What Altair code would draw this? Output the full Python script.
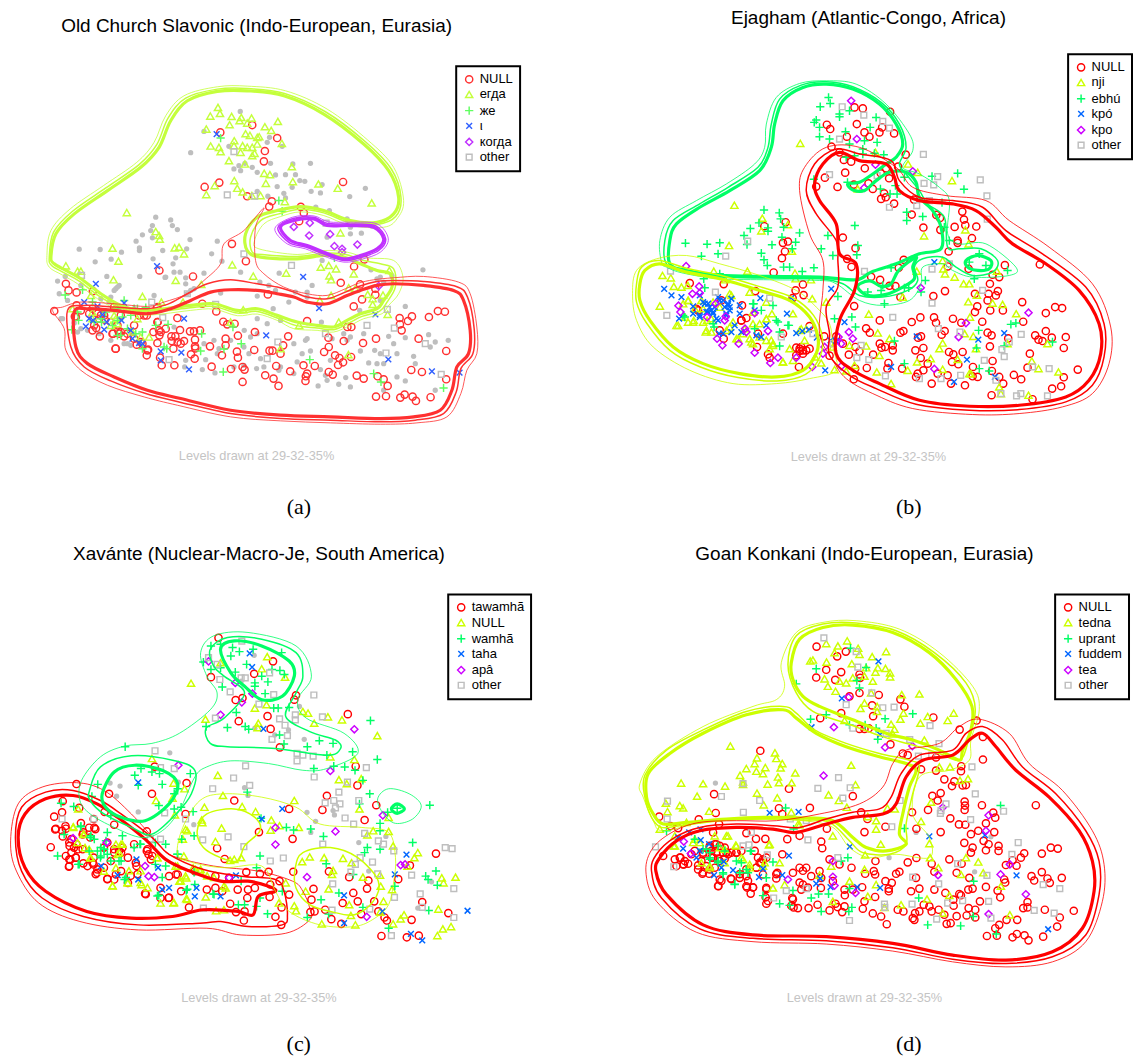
import altair as alt
import pandas as pd

alt.data_transformers.disable_max_rows()

SERIF = "Liberation Serif"
SANS = "Liberation Sans"
SHAPES = ["circle", "triangle-up", "M-1.15,0H1.15M0,-1.15V1.15",
          "M-.8,-.8L.8,.8M-.8,.8L.8,-.8", "diamond", "M-.8,-.8H.8V.8H-.8Z"]
PAL_A = ["#FF3030", "#C4FF3C", "#60FF60", "#3060FF", "#C030FF", "#BEBEBE"]
PAL = ["#FF0000", "#CCFF00", "#00FF66", "#0066FF", "#CC00FF", "#BEBEBE"]

# ---------- Panel (a) ----------
A_CATS = ["NULL", "егда", "же", "ι", "когда", "other"]
A_NULL = [(70,932),(105,850),(113,870),(137,876),(186,872),(137,915),(132,948),(150,930),(378,923),(440,953),(515,910),(557,933),(712,882),(487,828),(386,810),(604,730),(646,782),(703,451),(700,482),(740,412),(665,373),(569,395),(566,546),(522,559),(650,587),(724,602),(716,618),(811,619),(820,637),(806,662),(938,544),(1002,777),(971,798),(931,847),(989,852),(1035,865),(1035,883),(995,897),(970,918),(830,962),(951,980),(963,980),(1108,953),(1145,948),(1133,962),(1109,972),(1114,990),(1196,950),(1223,932),(1244,934),(1165,1015),(1248,1052),(1037,1015),(998,1028),(940,1022),(894,1012),(895,1040),(881,1055),(914,1065),(927,1073),(938,1086),(923,1094),(962,1070),(853,1097),(819,1095),(830,1120),(826,1128),(825,1142),(895,1115),(907,1123),(979,1126),(1000,1135),(1042,1128),(1060,1137),(1072,1157),(1037,1189),(1067,1188),(1110,1192),(1123,1183),(1147,1189),(1157,1202),(1201,1191),(1248,1137),(1143,1109),(1175,1115),(779,1113),(744,1157),(729,1135),(704,1125),(737,1097),(636,1145),(642,1108),(636,1100),(601,1106),(543,1099),(622,1072),(619,1054),(671,1049),(717,1051),(726,1051),(750,1060),(758,1035),(773,1008),(673,995),(622,1006),(585,1015),(585,1035),(574,1065),(538,1038),(578,964),(590,972),(612,970),(493,1018),(493,1038),(508,990),(490,993),(478,993),(448,989),(422,1008),(434,1008),(423,1022),(441,1025),(460,1022),(450,1030),(428,1045),(405,985),(386,1005),(380,1028),(381,965),(385,990),(368,995),(348,1065),(352,1048),(388,1072),(393,1095),(431,1095),(481,1062),(494,1044),(492,1075),(254,1045),(207,1008),(196,983),(250,920),(247,1000),(262,990),(280,1008),(318,1033),(330,1025),(348,945),(325,945),(270,945),(220,945),(200,940),(185,925),(240,965),(260,975),(222,958),(205,955),(265,1000),(290,1000),
 (135,950),(175,940),(210,945),(185,990),(245,1000),(270,995),(310,975),(340,945),(380,920),(380,965),(390,995),(310,1015),(350,1050),(335,1030),(255,1045),(190,975)]
A_LIME = [(562,320),(568,338),(539,346),(603,347),(627,360),(632,350),(663,352),(650,367),(742,362),(527,385),(597,372),(703,378),(722,389),(645,399),(658,404),(686,408),(680,410),(611,420),(754,428),(540,436),(565,440),(570,453),(610,435),(636,435),(630,455),(650,440),(665,440),(680,430),(665,465),(672,458),(595,480),(643,490),(784,498),(701,518),(718,522),(611,540),(706,548),(787,543),(864,550),(922,563),(552,555),(620,563),(636,574),(527,582),(664,585),(690,585),(763,603),(1024,607),(288,636),(375,693),(387,716),(385,705),(245,743),(263,782),(432,742),(445,740),(460,760),(105,796),(140,812),(150,812),(605,793),(248,838),(435,840),(512,852),(668,827),(767,818),(871,800),(895,795),(917,805),(897,826),(902,838),(930,697),(970,820),(955,862),(975,865),(902,885),(868,900),(335,888),(392,905),(457,905),(638,928),(1012,882),(1058,884),(1027,895),(1027,912),(1072,942),(1077,810),(925,965),(806,975),(600,965),(750,1045),(954,1063),(125,925),(185,935),(250,945),(260,970),(240,975),(320,955),(330,1010),
 (180,885),(185,955),(255,955),(355,1010),(305,995),(250,925)]
A_GREEN = [(103,884),(155,868),(140,935),(143,960),(123,988),(280,900),(260,925),(300,945),(345,922),(310,925),(212,965),(260,1005),(290,985),(375,975),(412,972),(408,1045),(335,1045),(513,1000),(510,1052),(607,980),(632,1030),(580,1046),(578,1115),(838,1078),(1030,1120),(1052,1145),(1240,1163),(570,412),(745,600),(755,632),(912,772),(260,960),(185,905),
 (210,955),(225,935),(275,950),(190,965),(245,975),(270,1005),(320,925),(315,1000),(335,995),(400,1040)]
A_BLUE = [(558,400),(195,850),(160,905),(200,918),(280,908),(175,955),(187,960),(215,943),(165,978),(220,988),(228,965),(272,960),(300,990),(305,1015),(325,1028),(335,1030),(390,1053),(390,1080),(452,1057),(460,955),(475,1107),(707,1005),(1074,1077),(1205,1113),(1288,1117),(1035,942),(866,923),(818,829),(379,797)]
A_PURPLE = [(790,679),(838,667),(899,701),(836,705),(912,737),(935,745),(935,755),(981,732),(1045,857)]
A_OTHER = [(152,825),(363,905),(396,952),(470,880),(555,912),(610,453),(590,583),(672,587),(640,760),(783,795),(887,668),(1071,927),(1010,975),(1092,983),(742,1025),(710,1075),(415,1078),(1067,1058),(1185,1030),(1233,1122),(885,1000)]
A_DOTS = [(629,332),(480,456),(625,495),(610,505),(630,510),(643,488),(665,500),(680,515),(720,488),(840,488),(787,490),(765,522),(795,522),(735,523),(808,540),(823,542),(740,558),(785,560),(875,552),(842,572),(870,577),(1005,563),(958,588),(680,572),(760,578),(712,587),(765,592),(717,410),(710,425),(755,437),(520,392),(595,437),(856,620),(897,630),(950,655),(960,680),(960,700),(1025,677),(993,698),(890,710),(375,650),(420,658),(365,675),(360,690),(425,675),(440,687),(335,703),(365,712),(478,717),(316,722),(326,742),(326,750),(396,750),(145,746),(208,747),(272,755),(193,784),(241,776),(367,775),(435,772),(468,745),(427,790),(448,815),(430,815),(403,831),(327,828),(228,828),(265,855),(255,865),(465,832),(465,850),(520,818),(490,865),(560,722),(543,760),(574,782),(630,815),(688,845),(715,855),(735,870),(775,905),(795,875),(830,875),(830,890),(845,855),(746,818),(875,780),(1178,808),(1022,808),(1085,827),(1040,835),(1050,830),(1060,845),(1125,918),(988,930),(1050,900),(728,925),(680,887),(570,878),(680,955),(710,970),(750,960),(873,965),(830,1015),(815,1060),(840,1052),(1000,1000),(960,1010),(1075,1008),(1090,1030),(1125,1012),(1195,1003),(1215,1025),(1254,1020),(1200,1040),(1150,1068),(1155,1090),(1033,1050),(990,1052),(1060,1090),(1015,1088),(1040,1090),(1125,1142),(1100,1130),(1060,1170),(1215,1170),(960,1160),(925,1152),(863,1157),(946,1132),(885,1125),(870,1108),(890,1140),(790,1120),(745,1110),(690,1075),(678,1105),(640,1040),(655,1060),(641,990),(550,1020),(520,1030),(525,1078),(515,1108),(553,1118),(465,1080),(462,1100),(80,842),(85,880),(103,828),(95,955),(130,968),(150,985),(240,890),(235,905),(210,895),(300,1035),(280,1030),(565,1045),(560,1060),(600,1020),(610,1100),(750,1100),(660,1010),(790,1030),(825,1020),(905,1015),(950,1020),(900,1080),(800,1085),(640,1095),(940,1000),(1050,1060),(1100,1060),(700,1100),(680,1000),
 (90,955),(110,900),(260,860),(250,870),(170,990),(240,1020),(290,1030),(310,925),(205,1000),(140,995),(370,885),(430,980),(470,880),(480,870),(405,830),(150,855)]
A_CONTOURS = [
 (1, 3.2, [(60,770),(75,700),(130,640),(230,570),(330,500),(385,440),(420,360),(470,300),(560,272),(650,270),(760,285),(880,340),(1000,430),(1075,510),(1105,590),(1090,640),(1040,665),(960,660),(880,630),(810,618),(740,630),(680,650),(645,700),(650,750),(690,770),(800,775),(880,765),(940,770),(990,790),(1040,810),(1080,820),(1085,860),(1060,900),(1040,925),(990,940),(950,960),(910,980),(860,975),(800,965),(740,945),(680,925),(620,930),(550,910),(480,915),(400,925),(330,930),(270,915),(210,880),(150,835),(105,810),(70,790)]),
 (1, 1.5, [(55,770),(68,695),(125,632),(225,562),(325,492),(378,432),(412,352),(465,292),(560,265),(650,263),(762,278),(885,333),(1006,424),(1083,505),(1112,590),(1096,648),(1040,672),(960,667),(880,637),(810,626),(745,640),(690,660),(660,710),(665,755),(695,762),(800,768),(880,758),(945,762),(1000,780),(1050,790),(1090,805),(1095,860),(1070,905),(1048,932),(995,948),(955,968),(910,988),(860,983),(795,975),(740,953),(680,933),(620,938),(550,918),(480,922),(400,932),(330,937),(268,922),(205,887),(145,842),(100,817),(62,795)]),
 (1, 0.8, [(48,765),(60,690),(118,625),(218,555),(318,485),(370,425),(405,345),(460,285),(560,258),(650,256),(765,270),(890,325),(1012,418),(1090,500),(1120,600),(1100,655),(1060,680),(960,675),(880,645),(810,634),(750,648),(700,670),(672,720),(685,745),(800,762),(880,750),(950,755),(1010,772),(1090,780),(1118,830),(1105,880),(1075,915),(1055,940),(1000,955),(960,975),(910,995),(860,990),(790,985),(740,960),(680,941),(620,946),(550,926),(480,930),(400,940),(330,944),(265,930),(200,895),(140,850),(95,824),(55,800)]),
 (0, 3.2, [(130,935),(135,1040),(170,1090),(250,1130),(350,1170),(450,1195),(600,1230),(750,1245),(900,1250),(1050,1255),(1150,1250),(1230,1230),(1265,1170),(1280,1100),(1315,1060),(1320,990),(1300,900),(1270,870),(1180,855),(1090,850),(1040,855),(990,870),(950,885),(890,910),(830,905),(790,890),(740,880),(680,870),(600,868),(540,875),(480,900),(420,925),(350,940),(250,930),(170,925)]),
 (0, 1.5, [(110,930),(120,1040),(160,1100),(240,1142),(345,1180),(445,1205),(600,1240),(750,1255),(900,1260),(1050,1265),(1155,1260),(1240,1240),(1278,1175),(1292,1105),(1328,1060),(1332,985),(1312,890),(1278,858),(1180,843),(1090,840),(1040,843),(985,858),(945,875),(890,895),(830,890),(790,875),(740,860),(680,850),(600,838),(530,850),(470,880),(410,912),(350,925),(250,920),(160,915)]),
 (0, 0.8, [(65,930),(100,985),(105,1050),(150,1110),(230,1155),(340,1190),(440,1215),(600,1250),(750,1262),(900,1268),(1050,1272),(1160,1268),(1250,1250),(1292,1180),(1310,1110),(1340,1060),(1340,980),(1320,880),(1285,845),(1180,828),(1090,832),(1030,838),(985,848),(945,865),(890,885),(830,880),(760,860),(700,820),(675,780),(675,680),(700,622),(640,690),(580,730),(570,790),(520,840),(470,880),(400,905),(350,918),(250,910),(150,905),(95,920)]),
 (4, 3.2, [(750,680),(790,660),(850,655),(890,675),(960,675),(1030,680),(1060,715),(1040,745),(990,765),(940,775),(880,755),(830,735),(780,720)]),
 (4, 1.5, [(742,682),(788,654),(850,650),(892,669),(960,670),(1034,675),(1066,715),(1045,750),(992,771),(940,780),(878,760),(828,740),(776,726)]),
 (4, 0.8, [(733,684),(786,650),(850,646),(894,664),(960,665),(1040,670),(1074,715),(1050,755),(995,776),(940,785),(875,765),(825,745),(770,730)]),
]

# ---------- Panel (b) ----------
B_CATS = ["NULL", "nji", "ebhú", "kpó", "kpo", "other"]
B_NULL = [(705,320),(730,323),(812,333),(622,372),(632,385),(712,370),(788,380),(780,395),(735,395),(824,398),(682,408),(750,408),(636,438),(660,455),(673,478),(695,483),(859,462),(836,498),(800,503),(736,503),(784,518),(677,516),(616,531),(809,533),(703,552),(747,548),(654,559),(590,558),(760,565),(794,578),(785,595),(799,590),(824,609),(884,597),(877,642),(951,643),(962,652),(1029,633),(1034,657),(1038,674),(1071,678),(1006,679),(963,688),(912,681),(498,665),(434,677),(505,723),(490,727),(496,753),(487,773),(462,816),(670,711),(708,743),(683,775),(696,799),(755,829),(782,838),(853,778),(838,802),(810,856),(828,857),(988,753),(1015,720),(1015,727),(1058,713),(985,798),(1048,805),(1157,794),(1262,792),(1120,823),(1140,830),(1112,850),(1067,880),(1108,880),(1130,885),(1136,872),(1105,900),(942,887),(977,872),(843,890),(704,917),(312,851),(407,872),(210,848),(550,852),(528,870),(552,884),(519,893),(1209,905),(1113,930),(1151,930),(1074,918),(1067,935),(1308,920),(1329,923),(1280,938),(1089,964),(1001,955),(1026,967),(944,951),(950,967),(903,951),(877,965),(781,960),(740,984),(751,997),(852,992),(843,997),(976,992),(967,1003),(905,1008),(896,1012),(1105,997),(1117,1005),(1212,964),(1167,1014),(1248,1005),(1258,1018),(1270,1022),(1280,992),(1298,1012),(1340,1010),(1334,1043),(1232,1060),(1225,1102),(1120,1082),(1112,1038),(1061,1100),(1030,1055),(1002,1062),(989,1055),(998,1085),(1017,1092),(904,1073),(888,1050),(912,1043),(820,1035),(820,1050),(797,1040),(786,1042),(781,1030),(761,1063),(708,1040),(720,1053),(807,1088),(804,1105),(848,1105),(742,1103),(707,1105),(703,1137),(688,1063),(650,1008),(670,1030),(614,1008),(570,977),(540,1052),(550,1050),(445,1062),(450,1072),(412,1040),(415,1000),(490,1000),(530,1042),(538,1100),(630,1066),(925,1090),(912,1110),(895,1120),(890,1130),(937,1150),(995,1150),(985,1125),(1037,1155),(1060,1128),(1075,1130),(1117,1185),(1140,1130),(1152,1150),(1184,1124),(1206,1137),(1240,1197),(1299,1165),(1326,1158),(1334,1131),(1376,1108),(1118,1112),(955,1120),(300,990),(312,1015),(365,960),(235,930),(305,900),
 (540,1045),(550,1060),(560,1050),(530,1065),(545,1040),(570,1045),(367,915),(380,953),(230,925),(365,960)]
B_LIME = [(542,428),(344,614),(428,653),(425,691),(505,672),(328,735),(517,752),(282,812),(383,812),(316,838),(128,825),(153,832),(162,858),(185,860),(204,855),(120,917),(175,975),(205,965),(222,960),(258,995),(275,995),(205,900),(225,925),(250,925),(262,960),(320,990),(350,1015),(395,1025),(370,1000),(400,970),(390,875),(440,905),(457,940),(440,955),(420,970),(520,940),(578,895),(526,818),(528,835),(574,838),(450,1045),(460,1030),(510,1045),(490,1085),(440,1020),(545,985),(555,1020),(587,1070),(605,1088),(645,1108),(680,1112),(705,1095),(690,1035),(740,1037),(780,1065),(772,1115),(815,1150),(865,1110),(893,1085),(934,1075),(970,1107),(960,1045),(970,1028),(1036,1000),(1015,1077),(1050,1120),(1140,1160),(1145,1180),(1228,1185),(1238,1082),(1258,1105),(1318,1115),(1285,1030),(1191,940),(1150,912),(1120,908),(1052,950),(1047,904),(1073,884),(1006,830),(977,820),(972,805),(1033,850),(1050,850),(1133,812),(892,812),(914,706),(1038,688),(1048,730),(850,890),(748,941),(775,998),(810,1015),(970,780),(998,540),(866,490),(895,515),(715,565),(768,455),(1062,1008),(1165,1030),(1055,1120),(1070,1045),(620,905),(640,1040),
 (190,910),(205,900),(195,950),(220,965),(250,965),(260,990),(275,955),(330,980),(340,965),(375,985),(390,1015),(400,1030),(420,1010),(440,955),(455,1020),(460,1035),(490,1085),(520,1080),(540,990),(560,985),(335,885),(245,900),(170,975),(355,1015),(300,920),(280,905),(330,880),(400,935)]
B_GREEN = [(627,290),(632,308),(602,318),(690,330),(660,340),(660,348),(590,358),(584,365),(600,380),(600,408),(630,415),(678,393),(752,380),(770,350),(735,420),(773,425),(690,430),(730,445),(765,458),(793,462),(680,470),(705,465),(730,460),(938,527),(1015,518),(1034,566),(855,530),(684,545),(583,536),(783,565),(828,555),(812,580),(833,580),(968,606),(862,635),(862,660),(910,648),(706,675),(625,705),(605,745),(640,765),(715,735),(712,763),(433,628),(479,637),(418,667),(483,655),(392,684),(445,682),(445,692),(492,680),(540,697),(373,705),(382,732),(487,710),(197,728),(262,731),(300,727),(245,767),(295,760),(425,758),(457,733),(528,725),(518,745),(433,778),(443,795),(492,800),(510,800),(548,813),(583,802),(815,802),(975,680),(990,720),(1080,760),(1050,785),(1100,795),(1065,835),(1165,810),(918,840),(905,875),(855,862),(868,862),(790,855),(745,875),(785,870),(795,910),(655,888),(697,950),(645,955),(708,980),(825,1022),(855,1090),(1078,990),(1072,1043),(1155,1037),(1175,972),(1190,968),(1300,1025),(1080,1105),(1110,1112),(400,910),(460,915),(505,975),(475,965),(480,1037),(300,820),(252,835),(255,862),(280,970),(190,945),
 (195,950),(283,980),(405,985),(470,960),(508,975),(480,995),(402,910),(425,930)]
B_BLUE = [(133,865),(155,885),(185,890),(178,955),(220,918),(240,885),(265,910),(285,920),(310,900),(335,895),(325,915),(300,900),(275,930),(260,935),(240,945),(280,940),(295,960),(320,940),(345,975),(360,915),(360,940),(422,893),(405,930),(440,975),(410,1005),(425,1010),(335,995),(298,1000),(502,940),(515,893),(530,998),(548,992),(568,988),(592,1012),(633,1020),(650,1022),(635,865),(675,965),(617,1110),(815,1100),(892,1008),(1077,1018),(1155,998),(1043,1078),(1127,1130),(1004,1145),(945,785),(330,920),(250,905),
 (255,910),(295,890),(315,920),(280,935),(265,935),(290,955),(320,945),(240,950),(220,940),(310,1000),(365,995),(325,910),(270,920),(330,930)]
B_PURPLE = [(199,797),(238,858),(240,878),(218,880),(176,916),(182,935),(288,910),(262,950),(318,948),(315,960),(292,1015),(308,1035),(357,1030),(405,938),(376,985),(380,995),(445,992),(405,1057),(475,1072),(452,1088),(530,1072),(578,1100),(615,1040),(610,1060),(657,1010),(688,995),(700,1015),(665,1098),(665,1030),(768,492),(712,415),(695,300),(734,562),(880,512),(904,862),(1228,937),(1040,968),(1018,1010),(945,1106)]
B_OTHER = [(668,318),(733,343),(790,362),(810,382),(660,415),(630,522),(773,525),(912,461),(955,528),(914,548),(943,553),(1083,538),(1103,586),(1104,656),(930,600),(892,615),(810,620),(384,722),(318,767),(735,813),(938,806),(990,790),(1090,870),(938,908),(820,951),(957,985),(1022,995),(1170,1025),(1206,1002),(1148,1048),(1155,1069),(1095,1080),(1240,1100),(1290,1105),(1024,1125),(965,1135),(798,1127),(748,1078),(712,1072),(1205,1180),(1192,1187),(1285,1187),(1145,1180),(1130,1140),(152,812),(141,945),(450,893),(485,1010),(580,1000),(640,1030),(725,1035),(900,1135),(287,875)]
B_DOTS = []
B_CONTOURS = [
 (2, 3.2, [(150,790),(150,720),(170,670),(240,620),(330,570),(420,510),(455,440),(465,370),(490,300),(550,260),(620,250),(700,265),(780,310),(830,370),(850,430),(830,470),(800,490),(760,520),(720,545),(685,550),(700,568),(735,570),(770,540),(810,515),(860,515),(890,545),(900,590),(940,630),(965,680),(965,745),(900,760),(830,790),(755,815),(710,838),(600,830),(450,828),(300,825),(200,810)]),
 (2, 3.2, [(1040,780),(1075,765),(1115,780),(1110,805),(1075,810),(1045,800)]),
 (2, 3.2, [(715,862),(725,848),(755,842),(785,858),(815,850),(838,810),(890,770),(880,800),(885,835),(850,860),(800,882),(745,885)]),
 (2, 1.5, [(140,790),(135,720),(160,660),(240,610),(325,560),(415,500),(445,440),(455,370),(480,295),(545,253),(620,243),(700,258),(785,305),(840,370),(860,440),(840,490),(860,520),(900,570),(925,610),(975,650),(985,740),(1020,745),(1085,745),(1135,780),(1120,815),(1060,825),(1010,800),(970,770),(910,775),(885,800),(895,840),(865,870),(790,890),(720,885),(670,850),(600,835),(450,833),(300,830),(200,815)]),
 (2, 0.8, [(125,785),(120,720),(150,650),(230,600),(320,550),(405,490),(435,440),(440,370),(470,290),(540,248),(620,240),(710,250),(800,310),(870,400),(880,450),(850,500),(900,520),(960,560),(990,600),(985,700),(1020,730),(1100,730),(1190,800),(1170,825),(1060,830),(1000,810),(970,790),(910,800),(905,850),(870,900),(790,915),(720,900),(650,850),(600,840),(450,838),(300,835),(190,818),(140,800)]),
 (1, 3.2, [(60,850),(75,810),(120,790),(200,815),(300,835),(420,870),(510,900),(570,950),(595,1010),(590,1060),(550,1110),(470,1130),(360,1120),(250,1090),(160,1040),(90,960),(60,900)]),
 (1, 1.5, [(50,850),(65,800),(118,780),(205,805),(305,825),(425,860),(520,892),(582,945),(608,1010),(602,1068),(558,1122),(472,1142),(355,1132),(242,1100),(150,1050),(80,968),(50,905)]),
 (1, 0.8, [(38,880),(50,810),(110,775),(200,765),(300,790),(420,825),(530,870),(590,920),(630,970),(640,1040),(650,1110),(570,1135),(470,1150),(340,1150),(210,1110),(100,1040),(50,960)]),
 (0, 3.2, [(585,550),(610,490),(660,455),(720,480),(800,490),(825,530),(840,570),(900,600),(1000,610),(1070,630),(1130,680),(1180,730),(1280,790),(1380,870),(1440,970),(1445,1060),(1410,1140),(1340,1190),(1200,1215),(1050,1218),(900,1200),(780,1150),(700,1110),(650,1060),(660,960),(705,870),(710,790),(660,760),(650,670),(600,600)]),
 (0, 1.5, [(560,570),(585,490),(650,445),(720,460),(815,480),(840,540),(900,590),(1000,600),(1090,620),(1160,690),(1270,760),(1400,860),(1455,970),(1455,1070),(1420,1155),(1340,1205),(1200,1228),(1050,1230),(890,1212),(770,1165),(690,1125),(630,1065),(630,1000),(620,920),(655,860),(655,780),(650,720),(590,640)]),
 (0, 0.8, [(540,570),(555,500),(620,440),(720,440),(830,500),(880,560),(980,585),(1100,600),(1170,660),(1290,740),(1420,850),(1475,980),(1470,1090),(1420,1180),(1330,1220),(1200,1240),(1060,1243),(880,1225),(760,1180),(680,1135),(640,1080),(600,1000),(610,870),(610,780),(570,700)]),
]

# ---------- Panel (c) ----------
C_CATS = ["tawamhã", "NULL", "wamhã", "taha", "apâ", "other"]
C_NULL = [(634,306),(793,376),(612,423),(738,413),(684,491),(704,485),(860,477),(855,490),(1011,533),(693,554),(777,539),(786,577),(813,632),(1034,688),(448,689),(541,738),(1039,745),(950,776),(1094,804),(937,818),(840,815),(680,790),(440,770),(315,770),(220,741),(180,792),(228,812),(178,825),(155,838),(302,824),(538,830),(330,862),(188,866),(158,876),(178,880),(233,857),(270,845),(275,875),(425,882),(1060,848),(752,884),(850,904),(630,932),(180,897),(145,929),(205,905),(200,925),(205,945),(225,935),(218,960),(202,966),(198,987),(240,977),(270,980),(280,1005),(310,1023),(330,1025),(300,990),(320,970),(350,945),(330,935),(370,1035),(420,1067),(465,1050),(465,1080),(488,1080),(525,1060),(548,1108),(600,1055),(625,1050),(645,1060),(668,1097),(685,1122),(718,1080),(708,1147),(710,1120),(783,1077),(818,1108),(800,1136),(817,1160),(840,1070),(652,964),(715,1003),(755,1008),(780,1002),(852,1002),(812,1030),(785,1040),(690,1055),(720,1055),(740,1050),(905,1085),(911,1053),(902,1122),(914,1120),(945,1115),(963,1143),(992,1157),(1050,1128),(996,1095),(1027,1065),(1040,1090),(1067,1052),(1071,1028),(1015,1018),(956,1001),(1088,1090),(1100,1120),(1118,1138),(1125,1147),(1158,1024),(1192,983),(1268,948),(1228,1092),(1197,1145),(1109,1193),(1183,1197),(1218,1192),(1304,1125),(425,940),(430,950),(240,885),(260,900),(300,930),(370,960),(395,985),(510,1010),(490,1015),(565,1000),(625,1015),(665,1020),(515,1010),(350,1000),(270,960),(220,920),(335,1010),
 (160,874),(189,874),(199,915),(238,891),(257,871),(272,871),(213,930),(238,935),(199,965),(218,960),(199,985),(189,955),(267,975),(281,995),(252,985),(310,1024),(276,1009),(344,940),(354,930),(388,920),(427,935),(441,955),(437,965),(378,1014),(398,1009),(393,975),(422,1069),(490,1079),(310,915),(330,945)]
C_LIME = [(554,441),(640,380),(776,362),(760,398),(828,423),(740,515),(774,505),(880,525),(895,530),(953,541),(994,550),(913,560),(596,548),(748,573),(750,560),(1097,597),(1030,668),(960,660),(440,665),(632,715),(985,728),(1008,740),(1050,725),(647,775),(855,790),(703,808),(593,810),(503,738),(535,755),(452,790),(500,783),(507,833),(225,815),(585,848),(742,823),(788,848),(786,878),(868,870),(812,865),(1045,815),(1130,840),(1130,882),(1085,880),(1068,892),(643,872),(625,912),(543,880),(530,905),(210,870),(240,890),(1143,925),(1215,945),(1205,960),(1185,985),(900,958),(878,972),(942,960),(997,962),(1022,975),(968,998),(1055,1018),(1105,1012),(1107,1045),(1140,1055),(1285,1020),(1325,1018),(1290,1035),(1275,1113),(1312,1165),(1288,1172),(1272,1192),(1175,1130),(1165,1142),(1143,1157),(1115,1090),(1033,1160),(1020,1132),(935,1157),(860,1118),(855,1103),(888,1060),(955,1053),(1015,1100),(965,1010),(700,960),(680,965),(668,968),(325,1043),(465,1095),(503,1095),(597,1077),(540,1082),(627,1118),(650,1115),(830,1035),(580,1000),(520,1030),(540,1020),(560,990),(515,985),(455,960),(410,1040),(370,1035),(335,990),(340,950),(350,920),(245,930),(260,960),(300,1000),(650,1045),(655,1050),(810,1095),(1105,1122),
 (211,868),(242,891),(223,915),(257,935),(262,960),(335,920),(354,920),(344,945),(325,1044),(369,1034),(373,999),(407,999),(427,1049),(407,1034),(456,960),(509,985),(533,955),(538,1014),(524,1029),(567,995),(582,995),(601,1014),(621,1019),(504,1093),(543,1084),(587,856),(538,876)]
C_GREEN = [(612,330),(675,335),(640,325),(670,360),(695,347),(818,350),(735,340),(590,378),(640,395),(612,400),(683,408),(716,385),(790,400),(813,403),(826,415),(760,420),(778,437),(740,440),(740,450),(645,452),(770,472),(795,515),(808,515),(840,513),(686,528),(598,570),(660,573),(712,570),(722,578),(812,595),(825,622),(893,630),(928,612),(968,620),(950,655),(912,695),(970,688),(1002,690),(1032,700),(1055,730),(1025,645),(1077,552),(1097,668),(1075,770),(1045,800),(1250,804),(1155,813),(1105,858),(1105,880),(1127,825),(362,630),(408,695),(390,715),(440,705),(462,710),(470,742),(552,710),(282,742),(400,745),(265,778),(515,755),(505,770),(175,798),(212,808),(460,805),(505,815),(525,810),(560,823),(320,835),(232,868),(718,765),(758,843),(903,875),(832,870),(853,878),(940,897),(527,905),(563,895),(1105,935),(1068,930),(1060,945),(1200,915),(755,955),(948,978),(165,955),(225,980),(310,885),(405,920),(450,915),(515,950),(260,900),(300,935),(290,960),(350,970),(450,980),(1027,1010),(985,1065),(1148,1045),(1238,1015),(1245,1025),(1268,1000),(1272,1042),(1247,1117),(1130,1170),(1055,1108),(955,1128),(933,1085),(893,1138),(777,1127),(820,1060),(755,1080),(745,1105),(710,1100),(692,1100),(618,1068),(460,1072),(565,1040),(700,1030),(745,990),(540,1057),(360,1025),
 (262,895),(272,905),(291,930),(281,940),(301,935),(291,955),(310,950),(320,970),(344,970),(306,910),(257,940),(228,980),(233,866),(184,891),(354,895),(407,920),(388,930),(480,920),(480,985),(514,950),(470,1019),(456,1074),(543,1054),(621,1069),(563,1004),(364,1019)]
C_BLUE = [(725,352),(732,393),(400,736),(820,815),(760,845),(765,577),(1182,951),(1148,1010),(1360,1118),(1112,1120),(1000,1072),(1000,1155),(1195,1187),(1228,1206),(640,1075),(565,1075),(570,1050),(490,1050),(470,1055),(400,1025),(458,990),(395,965),(340,1012),(292,985),(685,1013)]
C_PURPLE = [(605,376),(683,440),(733,472),(702,498),(640,535),(517,685),(1030,578),(960,702),(1113,834),(800,871),(975,882),(800,921),(892,1018),(1165,982),(1178,980),(1066,1136),(210,902),(308,915),(420,985),(430,1015),(447,1018),(665,1020)]
C_OTHER = [(702,316),(605,365),(630,385),(638,430),(668,467),(700,425),(712,425),(795,475),(752,503),(783,410),(625,545),(812,547),(858,535),(858,550),(937,541),(912,476),(828,566),(835,597),(790,608),(863,650),(880,655),(863,672),(910,658),(913,720),(449,642),(465,692),(505,695),(713,687),(678,723),(725,745),(617,755),(985,765),(970,790),(945,797),(988,800),(975,812),(1043,790),(1010,735),(1003,842),(1028,860),(1065,692),(477,827),(178,845),(270,845),(538,845),(662,898),(588,907),(708,927),(938,920),(1060,888),(1100,910),(1115,920),(1145,940),(1295,930),(1315,933),(1047,960),(1083,973),(823,961),(785,970),(1033,980),(1020,1003),(1098,1008),(1197,1012),(1147,1078),(1222,1068),(1320,1052),(967,1038),(1075,1113),(1138,1192),(1320,1138),(965,1116),(590,1110),(1228,1108),(465,905),(435,905)]
C_DOTS = [(492,648),(318,738),(347,747),(337,777),(400,824),(710,752),(720,775),(738,358),(700,435),(870,510),(838,580),(798,595),(740,575),(884,608),(892,825),(917,852),(968,820),(972,833),(903,885),(1043,915),(1122,897),(562,862),(1072,1000),(1215,1110),(1255,1032),(517,735)]
C_CONTOURS = [
 (0, 3.2, [(50,900),(70,830),(130,785),(210,775),(280,800),(340,840),(420,905),(480,965),(550,1000),(640,1030),(720,1030),(780,1045),(800,1060),(750,1075),(735,1130),(690,1120),(590,1115),(500,1135),(380,1140),(250,1120),(130,1060),(70,990)]),
 (0, 1.5, [(42,900),(60,810),(130,765),(210,760),(290,790),(350,830),(440,900),(490,950),(590,995),(700,1015),(800,1025),(825,1060),(835,1130),(820,1160),(720,1165),(640,1150),(580,1155),(400,1160),(240,1135),(120,1080),(60,1000)]),
 (0, 0.8, [(28,910),(50,800),(120,750),(220,737),(300,760),(380,830),(460,920),(500,955),(620,985),(750,1000),(850,1030),(880,1060),(900,1110),(900,1145),(830,1185),(700,1190),(600,1170),(400,1175),(230,1150),(110,1095),(45,1000)]),
 (2, 3.2, [(640,340),(680,315),(760,330),(840,375),(855,420),(820,480),(760,490),(710,450),(670,410)]),
 (2, 3.2, [(295,770),(330,705),(390,685),(470,700),(515,740),(490,800),(420,850),(350,840),(305,810)]),
 (2, 3.2, [(1138,815),(1155,800),(1176,815),(1155,828)]),
 (2, 1.5, [(610,340),(660,305),(760,310),(860,350),(880,420),(860,470),(830,540),(900,585),(975,610),(990,635),(950,655),(800,635),(660,630),(610,620),(598,575),(650,545),(710,470),(650,420),(620,390)]),
 (2, 1.5, [(258,760),(290,690),(380,657),(500,670),(565,700),(555,770),(510,830),(440,890),(380,870),(300,830),(260,790)]),
 (2, 0.8, [(582,350),(620,300),(720,290),(860,330),(905,420),(865,490),(890,545),(1000,590),(1040,650),(950,695),(880,700),(780,680),(670,672),(600,690),(565,720),(520,820),(470,880),(410,900),(330,870),(260,830),(230,790),(235,730),(290,660),(360,628),(440,620),(520,590),(610,520),(630,470),(600,420)]),
 (2, 0.8, [(1098,785),(1130,755),(1190,770),(1225,805),(1200,845),(1150,858),(1115,830)]),
 (1, 1.5, [(572,880),(600,830),(680,815),(740,840),(755,880),(710,925),(690,970),(640,960),(590,930)]),
 (1, 1.5, [(858,990),(880,945),(960,930),(1040,960),(1100,1030),(1085,1090),(1030,1130),(960,1120),(900,1100),(860,1050)]),
 (1, 0.8, [(515,950),(530,870),(580,790),(650,770),(760,780),(860,810),(930,860),(1050,870),(1130,885),(1150,960),(1145,1030),(1130,1100),(1090,1140),(1030,1165),(930,1160),(840,1120),(800,1060),(760,985),(650,990),(560,975)]),
]

# ---------- Panel (d) ----------
D_CATS = ["NULL", "tedna", "uprant", "fuddem", "tea", "other"]
D_NULL = [(591,332),(679,347),(653,361),(620,401),(665,408),(590,424),(647,431),(720,415),(722,425),(720,470),(690,480),(778,476),(843,489),(855,511),(758,507),(761,539),(665,530),(602,545),(942,543),(720,577),(735,577),(748,575),(813,623),(850,650),(865,655),(950,662),(1072,552),(1021,579),(1091,601),(1091,668),(1026,688),(1025,703),(950,701),(905,697),(975,727),(1005,733),(998,747),(1030,745),(1040,744),(939,776),(964,768),(955,790),(1036,793),(1037,805),(1036,818),(1088,804),(1250,804),(926,818),(878,825),(725,825),(744,845),(422,642),(508,755),(700,777),(283,771),(478,813),(488,830),(571,812),(288,827),(118,838),(237,846),(298,860),(152,866),(175,872),(1122,826),(1128,841),(993,843),(1019,861),(1038,862),(1100,858),(1125,884),(1077,880),(1055,890),(891,874),(964,884),(798,868),(735,884),(622,874),(380,887),(409,904),(437,904),(503,905),(540,895),(605,912),(608,932),(1035,916),(1093,910),(1108,920),(1060,930),(1055,945),(1100,938),(1138,925),(1138,940),(1215,947),(1268,948),(1295,930),(1316,933),(1205,960),(1237,1015),(1245,1028),(1268,1003),(1285,1022),(1292,1035),(1328,1020),(1192,984),(1160,982),(1180,968),(1155,1025),(1158,1034),(1135,1058),(1143,1078),(1100,1047),(1050,1020),(1060,1052),(1047,1055),(1027,978),(1012,1005),(990,965),(945,1002),(937,978),(891,961),(865,974),(768,970),(890,1020),(945,1055),(900,1052),(875,1060),(978,1065),(1020,1068),(1025,1072),(1002,1085),(1003,1103),(1082,1090),(1225,1092),(1225,1108),(1212,1110),(1277,1115),(1364,1118),(1322,1138),(1314,1165),(1272,1195),(1228,1206),(1216,1191),(1193,1187),(1180,1197),(1194,1145),(1162,1145),(1140,1160),(1128,1170),(1103,1193),(1133,1192),(1048,1110),(1068,1115),(1042,1132),(1068,1138),(1012,1134),(994,1155),(982,1157),(975,1130),(958,1115),(937,1120),(930,1105),(913,1100),(900,1120),(887,1125),(880,1140),(885,1145),(852,1120),(835,1115),(802,1158),(785,1135),(760,1126),(730,1112),(735,1090),(767,1077),(668,1122),(675,1105),(648,1097),(654,1107),(630,1117),(594,1100),(604,1050),(567,1110),(535,1110),(522,1108),(518,1080),(440,1097),(438,1078),(393,1067),(440,1050),(400,1048),(380,1045),(296,1045),(248,1008),(268,1008),(300,1025),(333,1022),(165,965),(130,955),(182,960),(192,980),(205,978),(235,983),(488,950),(630,965),(660,980),(696,990),(737,1008),(763,1000),(767,1010),(830,1008),(840,1002),(798,1030),(817,1035),(808,1052),(808,1060),(728,1048),(700,1055),(676,1072),(675,1055),(560,990),(540,990),(520,1005),(473,1005),(470,1022),(430,965),(420,975),(410,990),(430,1010),(380,1015),(360,1020),(290,920),(270,930),(250,950),(275,960),(300,970),(225,940),(215,950),(260,985),(285,990),(320,945),(350,945),(280,885),(550,1040),(545,1055),(575,1015),(605,1020),(640,1030),(600,1000),
 (270,925),(285,920),(300,925),(315,930),(275,940),(290,945),(310,945),(325,950),(280,960),(295,963),(315,963),(335,945),(350,945),(365,940),(250,945),(245,970),(250,1004),(270,995),(305,1029),(295,1044),(335,1024),(360,1009),(380,995),(405,940),(415,960),(425,975),(410,990),(385,1029),(382,1049),(400,1049),(440,960),(440,1054),(445,1089),(520,1084),(515,1103),(180,960),(195,970),(170,985),(190,980),(235,995),(540,1034),(550,999),(565,1049),(470,1009)]
D_LIME = [(620,323),(683,315),(655,330),(716,337),(645,350),(800,347),(758,362),(720,355),(572,375),(580,372),(621,378),(697,383),(740,395),(775,395),(798,397),(768,408),(812,410),(812,422),(615,428),(625,450),(660,435),(680,440),(700,425),(760,435),(735,420),(648,465),(755,470),(900,473),(847,475),(735,500),(773,510),(723,516),(773,525),(852,530),(843,548),(925,540),(1003,530),(985,552),(903,560),(675,552),(815,563),(825,578),(820,592),(915,610),(1022,730),(960,690),(992,690),(1046,725),(332,628),(466,648),(470,665),(412,663),(405,680),(488,680),(483,693),(380,695),(410,703),(437,692),(430,710),(695,685),(527,708),(361,715),(184,738),(250,740),(316,747),(370,735),(370,742),(444,741),(478,737),(516,737),(475,720),(708,743),(232,777),(412,768),(473,782),(627,773),(658,790),(138,798),(180,805),(190,812),(432,803),(143,823),(268,822),(682,810),(804,813),(826,815),(905,852),(935,795),(745,838),(770,850),(770,875),(784,920),(737,952),(735,995),(930,918),(932,960),(1040,960),(1077,973),(1092,1005),(1025,1010),(957,990),(1145,1045),(1172,1130),(990,1072),(970,1125),(923,1083),(845,1100),(795,1108),(770,1040),(745,1075),(690,1030),(600,1012),(640,1090),(635,985),(448,922),(540,862),(515,825),(640,895),(120,875),(200,855),(285,895),(320,895),(165,925),(225,905),(240,915),(300,930),(315,935),(350,925),(245,975),(270,990),(370,965),(390,990),(430,985),(480,975),(460,1050),(495,1040),
 (165,895),(162,925),(220,915),(325,895),(348,923),(450,920),(270,985),(315,975),(365,960),(390,980),(435,975),(535,861)]
D_GREEN = [(693,337),(590,398),(740,394),(712,433),(720,455),(530,443),(620,535),(573,548),(690,565),(737,565),(770,575),(797,547),(880,532),(775,608),(1144,805),(498,812),(522,875),(855,873),(140,880),(225,905),(260,935),(295,925),(315,940),(395,940),(350,970),(460,973),(685,960),(665,970),(270,960),(295,975),(310,1005),(345,1040),(360,1005),(385,1005),(440,1020),(520,1058),(430,1073),(480,1097),(510,1102),(575,1080),(597,1068),(627,1068),(690,1052),(605,1120),(697,1108),(688,1120),(898,1080),(1063,1030),(1062,1135),(925,1160),(1024,1163),(1131,1187),
 (250,935),(270,945),(270,965),(295,970),(310,1009),(345,1039),(360,1004),(365,975),(380,995),(392,940)]
D_BLUE = [(777,376),(667,486),(576,572),(782,594),(450,827),(537,824),(691,927),(930,897),(1097,893),(208,885),(242,876),(175,900),(190,933),(243,908),(268,920),(240,940),(230,960),(312,972),(305,990),(283,1012),(340,997),(430,993),(418,1018),(488,1012),(508,954),(590,1037),(602,1022),(633,1048),(713,1048),(782,1050),(1192,1013),(1287,1173)]
D_PURPLE = [(687,483),(643,572),(797,632),(879,628),(612,716),(970,811),(1108,834),(1100,880),(1172,980),(1144,1010),(956,1012),(1220,1069),(1108,1128),(640,970),(640,1017),(645,1043),(505,1025),(708,1065),(192,912),(213,948)]
D_OTHER = [(613,306),(710,347),(715,393),(757,470),(680,505),(790,514),(824,512),(932,567),(700,575),(800,590),(871,609),(959,621),(897,658),(937,655),(1058,690),(1068,770),(842,790),(657,722),(595,754),(692,752),(670,783),(371,825),(305,778),(370,740),(420,790),(143,792),(142,845),(1153,822),(963,828),(980,800),(965,820),(817,868),(1054,847),(1197,915),(565,907),(512,845),(560,850),(395,885),(107,928),(162,987),(443,952),(388,922),(370,925),(655,960),(1178,950),(1015,978),(1103,1013),(880,1018),(958,1038),(1272,1040),(1322,1052),(1108,1090),(1030,1088),(985,1095),(878,1098),(795,1098),(796,1108),(690,1147),(462,1080),(500,1058),(560,1052),(1245,1117),(1305,1125),(1115,1140),(952,1143)]
D_DOTS = [(287,738),(809,960),(1066,1002),(1115,898),(890,885)]
D_CONTOURS = [
 (1, 3.2, [(515,380),(540,310),(610,275),(700,268),(820,290),(930,350),(1010,430),(1058,510),(1055,580),(1030,640),(1020,670),(960,640),(880,610),(800,590),(700,550),(600,510),(550,480),(520,430)]),
 (1, 3.2, [(80,780),(85,710),(150,650),(250,590),(380,535),(490,520),(530,545),(590,590),(680,630),(780,660),(860,680),(890,700),(870,750),(850,830),(840,890),(860,920),(800,940),(740,930),(700,900),(640,850),(560,842),(450,840),(320,845),(200,855),(130,860),(100,830)]),
 (1, 1.5, [(505,385),(530,300),(610,265),(710,262),(830,285),(945,350),(1040,440),(1068,520),(1045,620),(1020,670),(960,650),(880,625),(790,600),(680,560),(580,525),(530,470)]),
 (1, 1.5, [(75,780),(75,715),(140,640),(250,580),(380,525),(490,510),(530,530),(585,580),(680,620),(780,650),(870,670),(900,690),(880,770),(860,860),(860,920),(810,950),(730,945),(690,910),(630,855),(550,848),(430,845),(300,850),(180,865),(125,870),(95,840)]),
 (1, 0.8, [(70,780),(60,740),(110,660),(250,570),(400,510),(470,490),(495,450),(485,380),(530,290),(610,260),(710,255),(840,280),(960,350),(1060,450),(1080,520),(1055,610),(1050,670),(990,700),(900,720),(880,830),(930,900),(930,960),(830,950),(750,960),(690,930),(640,870),(550,850),(400,845),(250,855),(130,880),(100,850)]),
 (0, 3.2, [(108,1000),(120,960),(170,910),(240,880),(350,870),(460,875),(530,885),(620,860),(700,840),(790,830),(830,800),(860,720),(910,670),(1000,655),(1050,610),(1090,590),(1130,630),(1190,700),(1290,780),(1380,880),(1420,970),(1425,1060),(1390,1170),(1300,1240),(1160,1265),(1000,1250),(820,1215),(620,1195),(400,1190),(250,1160),(140,1070)]),
 (0, 1.5, [(95,1000),(110,950),(165,900),(240,870),(350,860),(460,865),(540,870),(620,845),(700,825),(780,815),(815,780),(845,710),(900,655),(1000,640),(1040,590),(1090,570),(1150,610),(1210,690),(1310,770),(1400,880),(1440,970),(1440,1070),(1400,1190),(1300,1255),(1160,1275),(1000,1262),(820,1228),(620,1207),(400,1200),(240,1172),(125,1080)]),
 (0, 0.8, [(78,1000),(100,930),(165,880),(240,855),(350,850),(470,850),(600,830),(720,800),(790,750),(820,680),(860,640),(960,620),(1020,570),(1080,548),(1170,590),(1230,680),(1330,760),(1420,880),(1455,980),(1450,1090),(1400,1210),(1300,1270),(1160,1285),(1000,1270),(820,1238),(620,1217),(400,1210),(230,1182),(110,1090)]),
]

LEVELS = "Levels drawn at 29-32-35%"


def panel(title, tag, cats, series, dots, contours, pal, xdom, ydom, w, h, legend_xy,
          title_xy, levels_xy, tag_xy):
    x = alt.X("x:Q", axis=None, scale=alt.Scale(domain=xdom, nice=False, zero=False))
    y = alt.Y("y:Q", axis=None, scale=alt.Scale(domain=ydom, nice=False, zero=False))
    rows = []
    for cat, pts in zip(cats, series):
        rows += [{"x": a, "y": b, "cat": cat} for a, b in pts]
    legend = alt.Legend(title=None, orient="none", legendX=legend_xy[0], legendY=legend_xy[1],
                        strokeColor="black", padding=6.5, labelFont=SANS, labelFontSize=13,
                        labelColor="black", rowPadding=1.2, symbolStrokeWidth=1.45, symbolSize=52,
                        labelOffset=4, offset=0)
    layers = []
    if dots:
        layers.append(alt.Chart(pd.DataFrame(dots, columns=["x", "y"])).mark_circle(
            color="#BEBEBE", opacity=1, size=28).encode(x=x, y=y))
    layers.append(alt.Chart(pd.DataFrame(rows)).mark_point(filled=False, strokeWidth=1.45, size=52, opacity=1).encode(
        x=x, y=y,
        color=alt.Color("cat:N", scale=alt.Scale(domain=cats, range=pal), legend=legend),
        shape=alt.Shape("cat:N", scale=alt.Scale(domain=cats, range=SHAPES), legend=legend),
    ))
    for ci, sw, path in contours:
        df = pd.DataFrame([{"x": a, "y": b, "i": i} for i, (a, b) in enumerate(path)])
        layers.append(alt.Chart(df).mark_line(color=pal[ci], strokeWidth=sw, interpolate="cardinal-closed").encode(
            x=x, y=y, order="i:Q"))
    text = [
        (title, title_xy, 19, SANS, "black"),
        (LEVELS, levels_xy, 12.8, SANS, "#C4C4C4"),
        (tag, tag_xy, 22, SERIF, "black"),
    ]
    for s, (tx, ty), fs, font, col in text:
        layers.append(alt.Chart(pd.DataFrame([{"x": tx, "y": ty, "t": s}])).mark_text(
            fontSize=fs, font=font, color=col, align="center", baseline="middle").encode(x=x, y=y, text="t:N"))
    return alt.layer(*layers).properties(width=w, height=h)


a = panel("Old Church Slavonic (Indo-European, Eurasia)", "(a)", A_CATS,
          [A_NULL, A_LIME, A_GREEN, A_BLUE, A_PURPLE, A_OTHER], A_DOTS, A_CONTOURS, PAL_A,
          [-66, 1584], [1605, 24], 550, 527, (448, 57.5), (678, 76), (678, 1368), (805, 1522))
b = panel("Ejagham (Atlantic-Congo, Africa)", "(b)", B_CATS,
          [B_NULL, B_LIME, B_GREEN, B_BLUE, B_PURPLE, B_OTHER], B_DOTS, B_CONTOURS, PAL,
          [-186, 1539], [1605, 24], 575, 527, (511, 45.5), (747, 52), (747, 1370), (868, 1522))
c = panel("Xavánte (Nuclear-Macro-Je, South America)", "(c)", C_CATS,
          [C_NULL, C_LIME, C_GREEN, C_BLUE, C_PURPLE, C_OTHER], C_DOTS, C_CONTOURS, PAL,
          [23.3, 1623.8], [1544.4, 0], 550, 520, (440, 59.5), (752, 58), (752, 1377), (868, 1514))
d = panel("Goan Konkani (Indo-European, Eurasia)", "(d)", D_CATS,
          [D_NULL, D_LIME, D_GREEN, D_BLUE, D_PURPLE, D_OTHER], D_DOTS, D_CONTOURS, PAL,
          [-186, 1539], [1544.4, 0], 575, 520, (498, 59.5), (735, 58), (735, 1377), (868, 1514))

chart = alt.concat(a, b, c, d, columns=2, spacing=0, bounds="flush").properties(
    padding=0
).resolve_scale(
    x="independent", y="independent", color="independent", shape="independent"
).configure_view(stroke=None).configure_legend(strokeWidth=2)

chart.save("out.html", embed_options={"renderer": "svg", "actions": False})
